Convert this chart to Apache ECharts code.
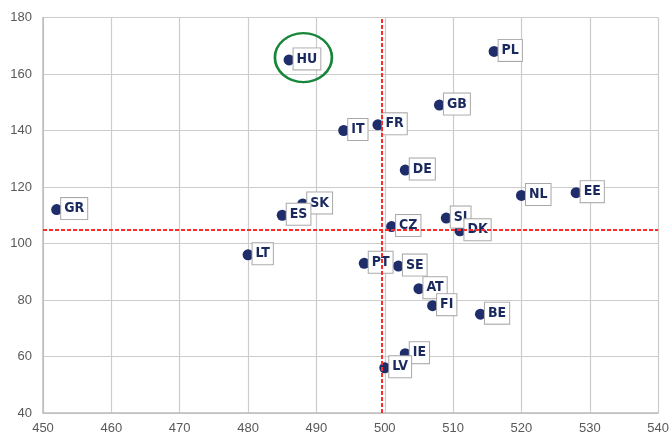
<!DOCTYPE html>
<html><head><meta charset="utf-8">
<script src="https://cdn.jsdelivr.net/npm/echarts@6/dist/echarts.min.js"></script>
<style>html,body{margin:0;padding:0;background:#fff}#c{width:672px;height:435px}</style>
</head><body><div id="c"></div>
<script>
const countries = ['HU','GR','SK','ES','PL','GB','IT','FR','DE','NL','EE','SI','DK','CZ','PT','SE','AT','FI','BE','IE','LV','LT'];
const xValues = [486,452,488,485,516,508,494,499,503,520,528,509,511,501,497,502,505,507,514,503,500,480];
const yValues = [165,112,114,110,168,149,140,142,126,117,118,109,104.5,106,93,92,84,78,75,61,56,96];
const xTicks = [450,460,470,480,490,500,510,520,530,540];
const yTicks = [40,60,80,100,120,140,160,180];
const avgX = 499.6;
const avgY = 105;
const highlight = [488.1, 165.8];

const points = countries.map((c,i)=>({name:c, value:[xValues[i], yValues[i]]}));
const chart = echarts.init(document.getElementById('c'));
const axisCommon = {
  axisLine:{show:true,lineStyle:{color:'#bdbdbd',width:1.5}},
  axisTick:{show:false},
  splitLine:{show:true,lineStyle:{color:'#cccccc',width:1.2}},
  axisLabel:{color:'#595959',fontSize:13,fontFamily:'Liberation Sans, Arial, sans-serif'}
};
chart.setOption({
  animation:false,
  grid:{left:43,right:12,top:17.5,bottom:22,containLabel:false},
  xAxis:Object.assign({type:'value',min:xTicks[0],max:xTicks[xTicks.length-1],interval:10},axisCommon,
    {axisLabel:Object.assign({},axisCommon.axisLabel,{margin:9})}),
  yAxis:Object.assign({type:'value',min:yTicks[0],max:yTicks[yTicks.length-1],interval:20},axisCommon,
    {axisLabel:Object.assign({},axisCommon.axisLabel,{margin:11})}),
  series:[{
    type:'scatter',
    data:points,
    symbol:'circle',
    symbolSize:11,
    itemStyle:{color:'#1f2d6b',opacity:1},
    label:{
      show:true,position:'right',distance:0,offset:[-1,-1],
      formatter:p=>p.name,
      color:'#1b2a5e',fontWeight:'bold',fontSize:14,
      fontFamily:'DejaVu Sans Condensed, Liberation Sans Narrow, sans-serif',
      backgroundColor:'#fff',borderColor:'#a8a8a8',borderWidth:1,
      padding:[4,3,3,3]
    },
    markLine:{
      silent:true,symbol:['none','none'],
      label:{show:false},
      lineStyle:{color:'#ff2a2a',type:[4,2],width:2},
      data:[{xAxis:avgX},{yAxis:avgY}]
    },
    z:3
  },{
    type:'scatter',
    data:[highlight],
    symbol:'circle',
    symbolSize:[57,49],
    itemStyle:{color:'rgba(0,0,0,0)',borderColor:'#17863a',borderWidth:2.5,opacity:1},
    z:4
  }]
});
</script></body></html>
